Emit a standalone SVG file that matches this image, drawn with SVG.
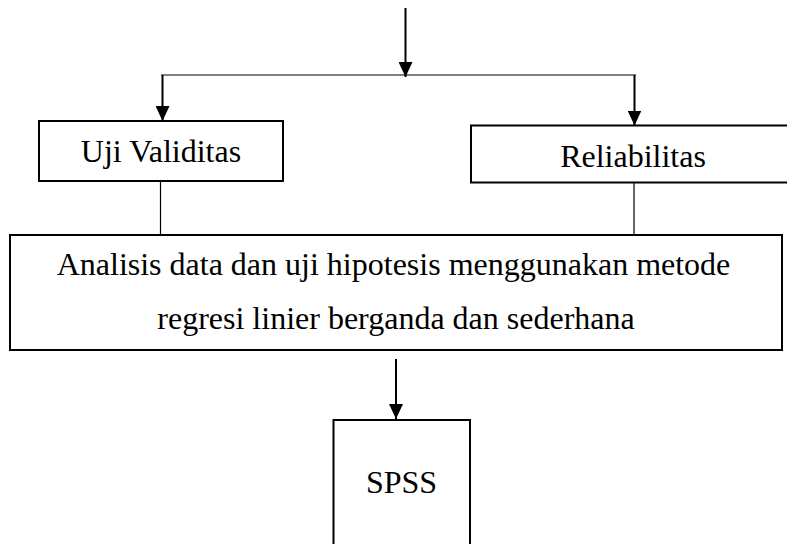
<svg xmlns="http://www.w3.org/2000/svg" width="787" height="544" viewBox="0 0 787 544">
  <style>
    .box { fill: #fff; stroke: #000; stroke-width: 2; }
    .lbl { font-family: "Liberation Serif", "Times New Roman", serif; font-size: 32px; fill: #000; text-anchor: middle; }
    .wire { fill: none; stroke: #000; stroke-width: 2; }
    .thin { fill: none; stroke: #000; stroke-width: 1.2; }
  </style>
  <defs>
    <marker id="arrow" viewBox="0 0 15 14" refX="15" refY="7" markerWidth="15" markerHeight="14" markerUnits="userSpaceOnUse" orient="auto">
      <path d="M0,0 L15,7 L0,14 Z" fill="#000"/>
    </marker>
  </defs>
  <rect width="787" height="544" fill="#fff"/>

  <g id="connectors">
    <line class="wire" x1="405.5" y1="8" x2="405.5" y2="77" marker-end="url(#arrow)"/>
    <line class="thin" x1="161" y1="75" x2="636" y2="75"/>
    <line class="wire" x1="162.5" y1="75" x2="162.5" y2="121" marker-end="url(#arrow)"/>
    <line class="wire" x1="634.5" y1="75" x2="634.5" y2="125.5" marker-end="url(#arrow)"/>
    <line class="thin" x1="160.5" y1="181" x2="160.5" y2="235"/>
    <line class="thin" x1="634" y1="183" x2="634" y2="235"/>
    <line class="wire" x1="396" y1="359" x2="396" y2="419" marker-end="url(#arrow)"/>
  </g>

  <g id="uji-validitas">
    <rect class="box" x="39" y="121" width="244" height="60"/>
    <text class="lbl" x="161" y="162">Uji Validitas</text>
  </g>

  <g id="reliabilitas">
    <rect class="box" x="471" y="125.5" width="330" height="57"/>
    <text class="lbl" x="633" y="167">Reliabilitas</text>
  </g>

  <g id="analisis">
    <rect class="box" x="10" y="235" width="772" height="115"/>
    <text class="lbl" x="393.5" y="275">Analisis data dan uji hipotesis menggunakan metode</text>
    <text class="lbl" x="396" y="329">regresi linier berganda dan sederhana</text>
  </g>

  <g id="spss">
    <rect class="box" x="333.5" y="420" width="136.5" height="140"/>
    <text class="lbl" x="401.5" y="493">SPSS</text>
  </g>
</svg>
